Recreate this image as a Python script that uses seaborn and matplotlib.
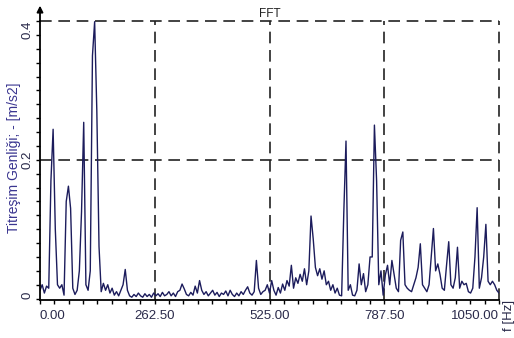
import numpy as np
import pandas as pd
import seaborn as sns
import matplotlib.pyplot as plt
from matplotlib.ticker import MultipleLocator

# spectrum, one value every 5 Hz (0 ... 1050 Hz)
freq_step = 5
amplitude = [
    0.012, 0.02, 0.008, 0.018, 0.015, 0.17, 0.244, 0.1, 0.02, 0.015,      # 0-45
    0.02, 0.005, 0.14, 0.162, 0.13, 0.015, 0.006, 0.012, 0.04, 0.125,     # 50-95
    0.254, 0.02, 0.012, 0.04, 0.35, 0.399, 0.27, 0.075, 0.01, 0.022,      # 100-145
    0.012, 0.02, 0.008, 0.015, 0.005, 0.01, 0.004, 0.012, 0.02, 0.042,    # 150-195
    0.012, 0.004, 0.002, 0.006, 0.003, 0.008, 0.004, 0.002, 0.007, 0.003, # 200-245
    0.006, 0.002, 0.008, 0.004, 0.007, 0.003, 0.009, 0.004, 0.006, 0.01,  # 250-295
    0.004, 0.008, 0.003, 0.01, 0.012, 0.021, 0.014, 0.006, 0.004, 0.009,  # 300-345
    0.005, 0.018, 0.008, 0.026, 0.012, 0.006, 0.01, 0.004, 0.008, 0.012,  # 350-395
    0.005, 0.009, 0.003, 0.008, 0.006, 0.011, 0.004, 0.012, 0.006, 0.003, # 400-445
    0.008, 0.004, 0.01, 0.006, 0.012, 0.017, 0.008, 0.005, 0.01, 0.055,   # 450-495
    0.015, 0.006, 0.01, 0.012, 0.02, 0.008, 0.026, 0.012, 0.005, 0.016,   # 500-545
    0.008, 0.021, 0.012, 0.026, 0.018, 0.048, 0.015, 0.03, 0.022, 0.035,  # 550-595
    0.025, 0.043, 0.02, 0.04, 0.119, 0.086, 0.045, 0.033, 0.043, 0.028,   # 600-645
    0.04, 0.02, 0.025, 0.012, 0.02, 0.008, 0.015, 0.005, 0.004, 0.125,    # 650-695
    0.227, 0.012, 0.02, 0.005, 0.004, 0.012, 0.05, 0.02, 0.036, 0.01,     # 700-745
    0.02, 0.06, 0.06, 0.25, 0.17, 0.02, 0.04, 0.005, 0.034, 0.048,        # 750-795
    0.02, 0.055, 0.035, 0.015, 0.01, 0.084, 0.096, 0.02, 0.015, 0.012,    # 800-845
    0.01, 0.02, 0.03, 0.045, 0.079, 0.02, 0.015, 0.01, 0.02, 0.06,        # 850-895
    0.101, 0.04, 0.05, 0.035, 0.015, 0.012, 0.048, 0.082, 0.02, 0.015,    # 900-945
    0.03, 0.074, 0.015, 0.025, 0.02, 0.022, 0.01, 0.008, 0.015, 0.06,     # 950-995
    0.131, 0.015, 0.03, 0.06, 0.107, 0.025, 0.02, 0.025, 0.02, 0.012,     # 1000-1045
    0.008,                                                                # 1050
]
freq = np.arange(len(amplitude)) * freq_step

x_ticks = [0, 262.5, 525, 787.5, 1050]
x_tick_labels = ['0.00', '262.50', '525.00', '787.50', '1050.00']
y_ticks = [0, 0.2, 0.4]
y_tick_labels = ['0', '0.2', '0.4']

df = pd.DataFrame({'freq': freq, 'amp': amplitude})

sns.set_style('white')
plt.rcParams['font.family'] = ['Liberation Sans', 'DejaVu Sans']

fig = plt.figure(figsize=(5.14, 3.38), dpi=100)
ax = fig.add_axes([40 / 514, 38 / 338, 459 / 514, 279 / 338])

sns.lineplot(data=df, x='freq', y='amp', ax=ax, color='#1c1c5c', linewidth=1.0)

ax.set_xlim(0, 1050)
ax.set_ylim(-0.002, 0.4)

# dashed grid / frame
for xv in x_ticks[1:]:
    ax.axvline(xv, color='#222222', lw=1.2, dashes=(7, 4), zorder=0, clip_on=False)
for yv in y_ticks[1:]:
    ax.axhline(yv, color='#222222', lw=1.2, dashes=(7, 4), zorder=0, clip_on=False)

for s in ['top', 'right']:
    ax.spines[s].set_visible(False)
for s in ['left', 'bottom']:
    ax.spines[s].set_color('black')
    ax.spines[s].set_linewidth(1.3)

# arrow at the top of the y axis
ax.annotate('', xy=(0, 1.065), xytext=(0, 0.99), xycoords='axes fraction',
            arrowprops=dict(arrowstyle='-|>', color='black', lw=1.3, mutation_scale=9))

tick_color = '#2a2a4a'
ax.set_xticks(x_ticks)
ax.set_xticklabels(x_tick_labels, fontsize=9.5, color=tick_color)
ax.set_yticks(y_ticks)
ax.set_yticklabels(y_tick_labels, fontsize=9.5, color=tick_color, rotation=90)
ax.xaxis.set_minor_locator(MultipleLocator(262.5 / 8))
ax.yaxis.set_minor_locator(MultipleLocator(0.02))
ax.tick_params(which='both', direction='out', length=3, width=1, color='black',
               bottom=True, left=True)
ax.tick_params(axis='y', pad=1.5)
ax.tick_params(axis='x', pad=4)

xl = ax.get_xticklabels()
xl[0].set_ha('left')
xl[-1].set_ha('right')
yl = ax.get_yticklabels()
yl[0].set_va('bottom')
yl[1].set_va('center')
yl[2].set_va('top')

ax.set_xlabel('')
ax.set_ylabel('')
fig.text(14 / 514, 180 / 338, 'Titreşim Genliği; - [m/s2]', rotation=90,
         fontsize=10, color='#3a3590', ha='center', va='center')
ax.set_title('FFT', fontsize=8.5, color='#222222', pad=3)

fig.text(503 / 514, 38 / 338, 'f [Hz]', rotation=90, fontsize=9.5,
         color=tick_color, ha='left', va='top')

fig.savefig('out.png', dpi=100)
